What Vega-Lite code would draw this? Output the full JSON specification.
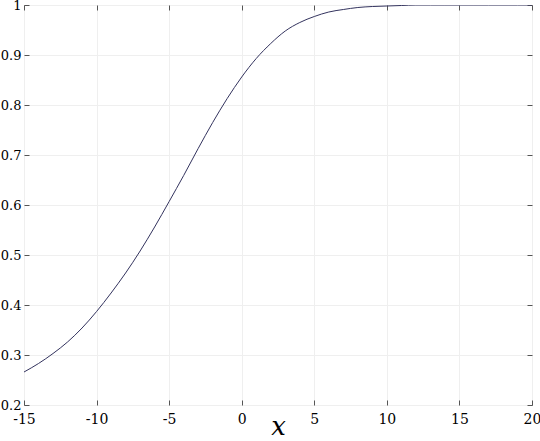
{
  "$schema": "https://vega.github.io/schema/vega-lite/v6.json",
  "autosize": "none",
  "width": 508,
  "height": 400,
  "padding": {"left": 24, "top": 5, "right": 8, "bottom": 36},
  "background": "white",
  "config": {
    "font": "DejaVu Serif",
    "view": {"stroke": "#555555", "strokeWidth": 1},
    "axis": {
      "labelFont": "DejaVu Serif",
      "labelFontSize": 13,
      "labelColor": "#000000",
      "titleFont": "DejaVu Serif",
      "domain": false,
      "tickColor": "#555555",
      "tickSize": -5,
      "gridColor": "#efefef",
      "gridWidth": 1
    }
  },
  "data": {
    "values": [
      {"x": -15, "y": 0.266}, {"x": -14, "y": 0.283}, {"x": -13, "y": 0.303},
      {"x": -12, "y": 0.326}, {"x": -11, "y": 0.354}, {"x": -10, "y": 0.387},
      {"x": -9, "y": 0.424}, {"x": -8, "y": 0.464}, {"x": -7, "y": 0.508},
      {"x": -6, "y": 0.556}, {"x": -5, "y": 0.607}, {"x": -4, "y": 0.659},
      {"x": -3, "y": 0.713}, {"x": -2, "y": 0.765}, {"x": -1, "y": 0.813},
      {"x": 0, "y": 0.856}, {"x": 1, "y": 0.893}, {"x": 2, "y": 0.923},
      {"x": 3, "y": 0.948}, {"x": 4, "y": 0.965}, {"x": 5, "y": 0.977},
      {"x": 6, "y": 0.986}, {"x": 7, "y": 0.991}, {"x": 8, "y": 0.995},
      {"x": 9, "y": 0.997}, {"x": 10, "y": 0.998}, {"x": 11, "y": 0.999},
      {"x": 12, "y": 1.0}, {"x": 13, "y": 1.0}, {"x": 14, "y": 1.0},
      {"x": 15, "y": 1.0}, {"x": 16, "y": 1.0}, {"x": 17, "y": 1.0},
      {"x": 18, "y": 1.0}, {"x": 19, "y": 1.0}, {"x": 20, "y": 1.0}
    ]
  },
  "layer": [
    {
      "mark": {"type": "line", "color": "#33335e", "strokeWidth": 1, "interpolate": "monotone", "clip": true},
      "encoding": {
        "x": {
          "field": "x", "type": "quantitative",
          "scale": {"domain": [-15, 20], "nice": false, "zero": false},
          "axis": {
            "values": [-15, -10, -5, 0, 5, 10, 15, 20],
            "labelExpr": "replace(datum.label, '\u2212', '-')",
            "labelPadding": 12,
            "labelFontSize": 14,
            "title": "x",
            "titleFontSize": 26,
            "titleFontStyle": "italic",
            "titleFontWeight": "normal",
            "titleBaseline": "alphabetic",
            "titleY": 29,
            "labelFlush": false
          }
        },
        "y": {
          "field": "y", "type": "quantitative",
          "scale": {"domain": [0.2, 1], "nice": false, "zero": false},
          "axis": {
            "values": [0.2, 0.3, 0.4, 0.5, 0.6, 0.7, 0.8, 0.9, 1],
            "labelExpr": "datum.value == 1 ? '1' : format(datum.value, '.1f')",
            "labelPadding": 8,
            "title": null,
            "labelFlush": false
          }
        }
      }
    },
    {
      "mark": {"type": "line", "strokeOpacity": 0},
      "encoding": {
        "x": {
          "field": "x", "type": "quantitative",
          "axis": {"orient": "top", "values": [-15, -10, -5, 0, 5, 10, 15, 20], "labels": false, "grid": false, "title": null}
        },
        "y": {
          "field": "y", "type": "quantitative",
          "axis": {"orient": "right", "values": [0.2, 0.3, 0.4, 0.5, 0.6, 0.7, 0.8, 0.9, 1], "labels": false, "grid": false, "title": null}
        }
      }
    }
  ],
  "resolve": {"axis": {"x": "independent", "y": "independent"}}
}
